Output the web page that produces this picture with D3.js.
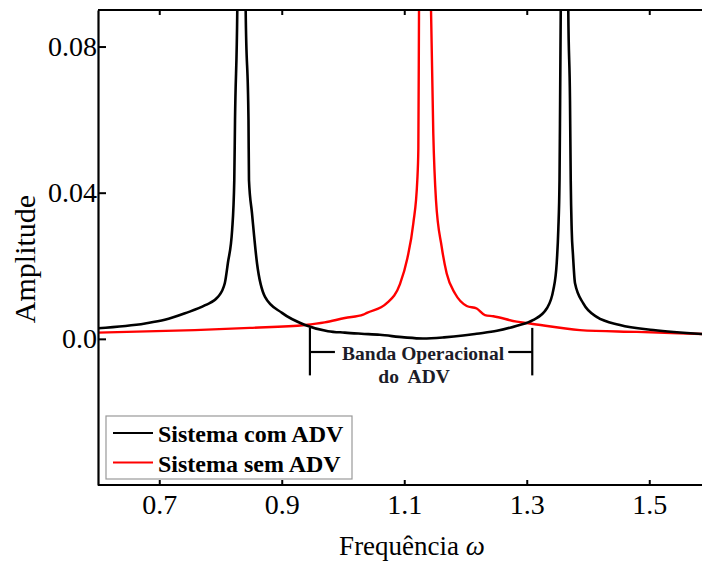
<!DOCTYPE html>
<html>
<head>
<meta charset="utf-8">
<script src="https://cdn.jsdelivr.net/npm/d3@7"></script>
<style>
    body { margin: 0; background: #fff; }
    svg { display: block; font-family: "Liberation Serif", "Times New Roman", serif; }
</style>
</head>
<body>
<svg id="canvas" width="702" height="562"></svg>
<script>
// Sistema com ADV (black). Peaks run off the top of the plot; 0.3 is just an off-scale marker.
let omegaCom = [0.600, 0.677, 0.709, 0.742, 0.775, 0.796, 0.807, 0.812, 0.819, 0.8225, 0.8237, 0.8274,
    0.8345, 0.8411, 0.8457, 0.8465, 0.8514, 0.8596, 0.8727, 0.9004, 0.938, 0.9755, 1.003, 1.030, 1.060,
    1.100, 1.1306, 1.165, 1.196, 1.218, 1.2514, 1.284, 1.310, 1.3326, 1.3434, 1.3489, 1.3515, 1.3535, 1.3545, 1.3555,
    1.3624, 1.3678, 1.3706, 1.3718, 1.3734, 1.3755, 1.3788, 1.3923, 1.4142, 1.4522, 1.5066, 1.590];
let ampCom = [0.0029, 0.0042, 0.0052, 0.0070, 0.0092, 0.0115, 0.0152, 0.0207, 0.0298, 0.0434, 0.0598, 0.0900,
    0.3, 0.0900, 0.0598, 0.0434, 0.0344, 0.0207, 0.0115, 0.0071, 0.0038, 0.0021, 0.0017, 0.0014, 0.0011,
    0.0004, 0.0001, 0.0004, 0.0009, 0.0014, 0.0022, 0.0036, 0.0051, 0.0083, 0.0134, 0.0207, 0.0298, 0.0434, 0.0653, 0.0900,
    0.3, 0.0900, 0.0653, 0.0434, 0.0298, 0.0229, 0.0152, 0.0097, 0.0060, 0.0038, 0.0024, 0.0013];

// Sistema sem ADV (red)
let omegaSem = [0.600, 0.758, 0.848, 0.938, 0.970, 1.003, 1.033, 1.039, 1.071, 1.093, 1.105, 1.1148, 1.1213,
    1.123, 1.1241, 1.1340, 1.1437, 1.1474, 1.1518, 1.1611, 1.1693, 1.1829, 1.202, 1.2183, 1.2318,
    1.2454, 1.2836, 1.3053, 1.3869, 1.4795, 1.590];
let ampSem = [0.0017, 0.0024, 0.0030, 0.0038, 0.0045, 0.0057, 0.0066, 0.0071, 0.0097, 0.0150, 0.0220, 0.0316, 0.0434,
    0.0520, 0.0900, 0.3, 0.0900, 0.0563, 0.0380, 0.0252, 0.0179, 0.0124, 0.0090, 0.0083, 0.0065,
    0.0062, 0.0047, 0.0042, 0.0024, 0.0019, 0.0013];

let xTicks = [0.7, 0.9, 1.1, 1.3, 1.5];
let yTicks = [0, 0.04, 0.08];
let yTickLabels = ["0.0", "0.04", "0.08"];
let seriesNames = ["Sistema com ADV", "Sistema sem ADV"];
let seriesColors = ["#000000", "#ff0000"];
let bandEdges = [0.946, 1.309];
let bandLabel = ["Banda Operacional", "do  ADV"];

let canvas = d3.select("#canvas");
let plotLeft = 98, plotTop = 10, plotBottom = 485;

let x = d3.scaleLinear().domain([0.6, 1.6]).range([plotLeft, 710.5]);
let y = d3.scaleLinear().domain([-0.04, 0.09]).range([plotBottom, plotTop]);

canvas.append("defs").append("clipPath")
    .attr("id", "plot-clip")
    .append("rect")
    .attr("x", plotLeft).attr("y", plotTop)
    .attr("width", 702 - plotLeft).attr("height", plotBottom - plotTop);

function toPoints(omega, amp) {
    return omega.map((w, i) => ({ w: w, a: amp[i] }));
}

let line = d3.line()
    .curve(d3.curveMonotoneX)
    .x(d => x(d.w))
    .y(d => y(d.a));

let curves = canvas.append("g").attr("clip-path", "url(#plot-clip)");
curves.append("path")
    .datum(toPoints(omegaSem, ampSem))
    .attr("fill", "none")
    .attr("stroke", seriesColors[1])
    .attr("stroke-width", 2.4)
    .attr("d", line);
curves.append("path")
    .datum(toPoints(omegaCom, ampCom))
    .attr("fill", "none")
    .attr("stroke", seriesColors[0])
    .attr("stroke-width", 2.6)
    .attr("d", line);

// Axes
let xAxis = canvas.append("g")
    .attr("transform", `translate(0,${plotBottom})`)
    .call(d3.axisBottom(x).tickValues(xTicks).tickFormat(d3.format(".1f"))
        .tickSizeInner(-5).tickSizeOuter(0).tickPadding(9));
let xTop = canvas.append("g")
    .attr("transform", `translate(0,${plotTop})`)
    .call(d3.axisTop(x).tickValues(xTicks).tickFormat("")
        .tickSizeInner(-5).tickSizeOuter(0));
let yAxis = canvas.append("g")
    .attr("transform", `translate(${plotLeft},0)`)
    .call(d3.axisLeft(y).tickValues(yTicks).tickFormat((d, i) => yTickLabels[i])
        .tickSizeInner(-8).tickSizeOuter(0).tickPadding(1));

[xAxis, xTop, yAxis].forEach(g => {
    g.select(".domain").attr("stroke", "#000").attr("stroke-width", 2.2);
    g.selectAll(".tick line").attr("stroke", "#000").attr("stroke-width", 2);
    g.selectAll("text")
        .attr("font-family", "Liberation Serif")
        .attr("font-size", 28)
        .attr("fill", "#000");
});
// the top and bottom spines reach the right edge of the picture
xAxis.select(".domain").attr("d", `M${plotLeft},0H702`);
xTop.select(".domain").attr("d", `M${plotLeft},0H702`);

canvas.append("text")
    .attr("x", 412)
    .attr("y", 555)
    .attr("text-anchor", "middle")
    .attr("font-size", 27)
    .html('Frequência <tspan font-style="italic">ω</tspan>');

canvas.append("text")
    .attr("transform", "translate(35,259) rotate(-90)")
    .attr("text-anchor", "middle")
    .attr("font-size", 30)
    .text("Amplitude");

// Operational band bracket
let band = canvas.append("g")
    .attr("stroke", "#000")
    .attr("stroke-width", 2.2);
bandEdges.forEach(w => {
    band.append("line")
        .attr("x1", x(w)).attr("x2", x(w))
        .attr("y1", y(0.003)).attr("y2", y(-0.01));
});
band.append("line")
    .attr("x1", x(bandEdges[0])).attr("x2", x(bandEdges[0]) + 25)
    .attr("y1", y(-0.0036)).attr("y2", y(-0.0036));
band.append("line")
    .attr("x1", x(bandEdges[1]) - 24).attr("x2", x(bandEdges[1]))
    .attr("y1", y(-0.0036)).attr("y2", y(-0.0036));

let mid = x((bandEdges[0] + bandEdges[1]) / 2);
canvas.append("text")
    .attr("x", mid + 2)
    .attr("y", 360)
    .attr("text-anchor", "middle")
    .attr("font-weight", "bold")
    .attr("font-size", 19.5)
    .attr("fill", "#1c1c28")
    .text(bandLabel[0]);
canvas.append("text")
    .attr("x", mid - 7)
    .attr("y", 383)
    .attr("text-anchor", "middle")
    .attr("font-weight", "bold")
    .attr("font-size", 19.5)
    .attr("fill", "#1c1c28")
    .style("white-space", "pre")
    .text(bandLabel[1]);

// Legend
let legend = canvas.append("g");
legend.append("rect")
    .attr("x", 106).attr("y", 416)
    .attr("width", 246).attr("height", 63)
    .attr("fill", "#fff")
    .attr("stroke", "#999")
    .attr("stroke-width", 1.2);
seriesNames.forEach((name, i) => {
    let row = 433 + i * 29.5;
    legend.append("line")
        .attr("x1", 113).attr("x2", 153)
        .attr("y1", row).attr("y2", row)
        .attr("stroke", seriesColors[i])
        .attr("stroke-width", 2.2);
    legend.append("text")
        .attr("x", 158)
        .attr("y", row + 9)
        .attr("font-weight", "bold")
        .attr("font-size", 24)
        .text(name);
});
</script>
</body>
</html>
